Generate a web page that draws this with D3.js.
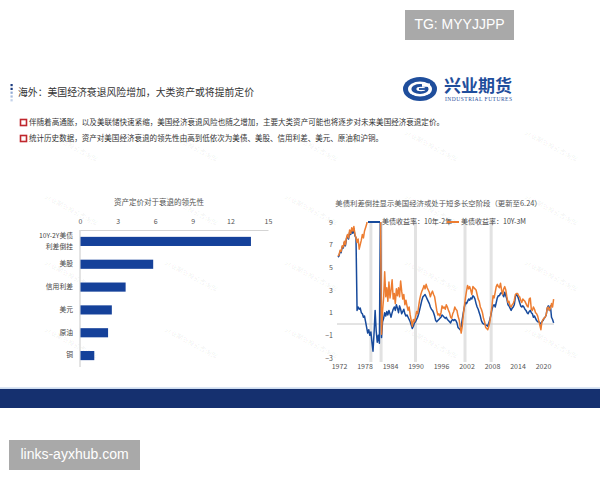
<!DOCTYPE html>
<html>
<head>
<meta charset="utf-8">
<script src="https://cdn.jsdelivr.net/npm/d3@7/dist/d3.min.js"></script>
<style>
  body { margin: 0; background: #fff; }
  svg { display: block; font-family: "Noto Sans CJK SC", "Noto Sans", sans-serif; }
</style>
</head>
<body>
<svg id="slide" width="600" height="480"></svg>
<script>
// left chart: lead time of asset pricing before recession
var leadCategories = ["10Y-2Y美债|利差倒挂", "美股", "信用利差", "美元", "原油", "铜"];
var leadValues = [13.6, 5.8, 3.6, 2.5, 2.2, 1.1];
var leadTicks = [0, 3, 6, 9, 12, 15];

// right chart: quarterly treasury spreads, first point 1971 Q4
var spreadStart = 1971.75;
var spreadStep = 0.25;
var spread10y2y = [
  5.9,
  6.0, 6.4, 6.3, 6.8,   // 1972
  6.7, 7.2, 6.9, 7.5,
  7.8, 7.5, 8.1, 7.9,
  8.3, 8.0, 8.4, 7.8,
  7.6, 1.2, 1.5, 1.3,   // 1976
  1.4, 1.0, 0.9, 0.6,
  0.7, 0.2, -0.3, -0.8,
  -0.5, -1.0, -0.7, -1.6,
  -2.4, -0.8, 1.2, -0.6, // 1980
  -1.6, -1.0, -1.7, 10.0,
  -1.2, 0.2, 0.5, 1.0,
  0.7, 1.1, 0.8, 1.2,
  0.9, 0.6, 1.0, 1.3,   // 1984
  1.5, 1.2, 1.7, 1.4,
  1.0, 1.6, 1.3, 0.9,
  1.1, 1.3, 0.9, 0.7,
  0.8, 0.6, 0.4, 0.2,   // 1988
  -0.1, -0.4, -0.2, 0.1,
  0.2, 0.4, 0.6, 0.9,
  1.3, 1.7, 2.1, 2.4,
  2.5, 2.6, 2.4, 2.2,   // 1992
  2.0, 1.8, 1.5, 1.3,
  1.2, 1.0, 0.7, 0.3,
  0.2, 0.3, 0.4, 0.5,
  0.6, 0.8, 0.7, 0.6,   // 1996
  0.5, 0.6, 0.4, 0.3,
  0.2, 0.1, 0.3, 0.4,
  0.3, 0.4, 0.3, 0.1,
  -0.3, -0.4, -0.5, -0.2, // 2000
  0.4, 1.0, 1.5, 1.9,
  1.8, 2.0, 2.2, 2.1,
  2.3, 2.2, 2.5, 2.4,
  2.2, 1.8, 1.5, 1.3,   // 2004
  1.0, 0.7, 0.3, 0.1,
  0.0, 0.0, -0.1, -0.1,
  -0.2, 0.1, 0.4, 0.8,
  1.3, 1.6, 1.7, 1.5,   // 2008
  1.9, 2.3, 2.5, 2.5,
  2.7, 2.8, 2.6, 2.4,
  2.8, 2.5, 2.2, 1.7,
  1.6, 1.4, 1.2, 1.4,   // 2012
  1.5, 1.7, 2.4, 2.6,
  2.5, 2.2, 1.9, 1.6,
  1.5, 1.6, 1.5, 1.3,
  1.2, 1.0, 0.9, 1.1,   // 2016
  1.2, 1.0, 0.9, 0.6,
  0.7, 0.5, 0.3, 0.2,
  0.2, 0.1, 0.0, 0.2,
  0.3, 0.5, 0.6, 0.8,   // 2020
  1.4, 1.6, 1.2, 1.6,
  0.6, 0.4, 0.1
];
var spread10y3m = [
  6.0,
  6.1, 6.5, 6.4, 6.9,   // 1972
  6.8, 7.3, 7.0, 7.6,
  7.9, 7.6, 8.3, 8.0,
  8.5, 8.2, 8.6, 7.9,
  7.6, 7.2, 7.5, 6.6,   // 1976
  7.0, 7.4, 7.9, 7.6,
  8.2, 8.5, 8.8, 9.3,
  9.8, 10.2, 10.5, 10.8,
  11.0, 10.8, 11.2, 11.5, // 1980
  11.3, 11.0, 10.6, 10.2,
  -0.9, 1.2, 2.3, 4.6,
  2.4, 3.2, 2.0, 3.7,
  2.3, 3.0, 3.9, 2.2,   // 1984
  2.7, 1.8, 3.1, 2.5,
  3.2, 2.4, 3.8, 2.9,
  2.2, 2.6, 1.7, 2.1,
  1.6, 1.2, 1.5, 0.8,   // 1988
  0.3, -0.2, 0.4, 0.2,
  0.6, 1.1, 0.9, 1.6,
  2.2, 2.6, 2.9, 3.1,
  3.4, 3.1, 3.5, 3.2,   // 1992
  3.0, 2.8, 2.4, 2.7,
  2.9, 2.6, 2.4, 1.8,
  1.2, 0.8, 0.9, 0.7,
  1.0, 1.6, 1.4, 1.5,   // 1996
  1.3, 1.7, 1.5, 1.2,
  1.0, 0.6, 0.5, 0.9,
  1.1, 1.5, 1.3, 1.2,
  0.7, 0.4, -0.2, -0.8, // 2000
  -0.2, 0.8, 1.6, 2.3,
  2.9, 3.4, 3.1, 3.3,
  3.0, 2.6, 3.3, 3.2,
  3.1, 3.0, 2.6, 2.2,   // 2004
  2.0, 1.5, 1.3, 1.0,
  0.5, 0.2, -0.3, -0.4,
  -0.5, -0.2, 0.2, 0.9,
  1.6, 2.5, 2.3, 2.8,   // 2008
  3.3, 3.5, 3.3, 3.2,
  3.6, 3.0, 2.6, 3.1,
  3.3, 3.0, 2.4, 1.9,
  2.0, 1.6, 1.5, 1.7,   // 2012
  1.8, 2.1, 2.6, 2.7,
  2.7, 2.5, 2.4, 2.1,
  1.9, 2.2, 2.1, 2.0,
  1.8, 1.6, 1.5, 2.2,   // 2016
  2.3, 1.3, 1.2, 1.5,
  1.3, 1.0, 0.9, 0.7,
  0.3, -0.1, -0.5, 0.2,
  0.4, 0.5, 0.6, 0.8,   // 2020
  1.4, 1.5, 1.2, 1.4,
  1.8, 1.5, 2.2
];
var spreadYTicks = [-3, -1, 1, 3, 5, 7, 9];
var spreadXTicks = [1972, 1978, 1984, 1990, 1996, 2002, 2008, 2014, 2020];
var recessionYears = [1979.5, 1981.9, 1990.0, 2001.65, 2007.8];

var svg = d3.select("#slide");

svg.append("rect").attr("width", 600).attr("height", 480).attr("fill", "#fff");

// faint watermarks
var wmX = [70, 190, 310, 430, 550];
var wmY = [148, 212, 278, 345];
wmY.forEach(function(wy) {
  wmX.forEach(function(wx) {
    svg.append("text")
      .attr("transform", "translate(" + wx + "," + wy + ") rotate(28)")
      .attr("text-anchor", "middle")
      .attr("font-size", 6.5)
      .attr("fill", "#000")
      .attr("fill-opacity", 0.07)
      .text("兴业期货投资咨询部");
  });
});

// gray tag boxes
function tagBox(x, y, w, h, label) {
  svg.append("rect").attr("x", x).attr("y", y).attr("width", w).attr("height", h).attr("fill", "#a9a9a9");
  svg.append("text")
    .attr("x", x + w / 2).attr("y", y + h / 2 + 0.5)
    .attr("text-anchor", "middle").attr("dominant-baseline", "middle")
    .attr("font-family", "Liberation Sans, Arial, sans-serif")
    .attr("font-size", 14).attr("fill", "#fff")
    .text(label);
}
tagBox(405, 10, 109, 30, "TG: MYYJJPP");
tagBox(9, 440, 131, 30, "links-ayxhub.com");

// header
var dotColors = ["#1d3d80", "#1d3d80", "#8fa9d4", "#a8bde0", "#c3d2ea"];
dotColors.forEach(function(c, i) {
  svg.append("rect").attr("x", 10.5).attr("y", 84 + i * 3.8).attr("width", 2.2).attr("height", 2.2).attr("fill", c);
});
svg.append("text")
  .attr("x", 18).attr("y", 93)
  .attr("dominant-baseline", "middle")
  .attr("font-size", 10.3).attr("fill", "#333")
  .attr("textLength", 236).attr("lengthAdjust", "spacingAndGlyphs")
  .text("海外：美国经济衰退风险增加，大类资产或将提前定价");

// logo
var logo = svg.append("g").attr("transform", "translate(420,89)");
logo.append("ellipse").attr("rx", 17).attr("ry", 12).attr("fill", "#1f4e9c");
logo.append("ellipse").attr("rx", 12).attr("ry", 7.6).attr("fill", "#fff");
logo.append("ellipse").attr("rx", 8.6).attr("ry", 5).attr("fill", "#1f4e9c");
logo.append("ellipse").attr("cx", 1).attr("rx", 4.6).attr("ry", 2.2).attr("fill", "#fff");
logo.append("rect").attr("x", 2).attr("y", -5.5).attr("width", 8).attr("height", 3.3).attr("fill", "#fff");
logo.append("rect").attr("x", -1).attr("y", -0.9).attr("width", 9).attr("height", 1.8).attr("fill", "#1f4e9c");
svg.append("text")
  .attr("x", 444).attr("y", 92)
  .attr("font-size", 17).attr("font-weight", 700).attr("fill", "#1f4e9c")
  .attr("textLength", 68).attr("lengthAdjust", "spacingAndGlyphs")
  .text("兴业期货");
svg.append("text")
  .attr("x", 445).attr("y", 101)
  .attr("font-family", "Liberation Serif, DejaVu Serif, serif")
  .attr("font-size", 5.5).attr("fill", "#1f4e9c")
  .attr("textLength", 67).attr("lengthAdjust", "spacing")
  .text("INDUSTRIAL FUTURES");

// bullets
var bullets = [
  "伴随着高通胀，以及美联储快速紧缩，美国经济衰退风险也随之增加，主要大类资产可能也将逐步对未来美国经济衰退定价。",
  "统计历史数据，资产对美国经济衰退的领先性由高到低依次为美债、美股、信用利差、美元、原油和沪铜。"
];
var bulletLen = [415, 354];
bullets.forEach(function(t, i) {
  var by = 122.5 + i * 16;
  svg.append("rect").attr("x", 20.5).attr("y", by - 3).attr("width", 6).attr("height", 6)
    .attr("fill", "#fff").attr("stroke", "#c0272d").attr("stroke-width", 1.6);
  svg.append("text")
    .attr("x", 29).attr("y", by)
    .attr("dominant-baseline", "middle")
    .attr("font-size", 8).attr("fill", "#333")
    .attr("textLength", bulletLen[i]).attr("lengthAdjust", "spacingAndGlyphs")
    .text(t);
});

// ---------- left chart: horizontal bars ----------
var left = svg.append("g");
left.append("text")
  .attr("x", 159).attr("y", 203)
  .attr("text-anchor", "middle").attr("dominant-baseline", "middle")
  .attr("font-size", 7.5).attr("fill", "#555")
  .text("资产定价对于衰退的领先性");

var bx = d3.scaleLinear().domain([0, 15]).range([80, 268]);
var by = d3.scaleBand().domain(leadCategories).range([230, 367]).paddingInner(0.6).paddingOuter(0.3);

var topAxis = left.append("g")
  .attr("transform", "translate(0,230)")
  .call(d3.axisTop(bx).tickValues(leadTicks).tickSize(0).tickPadding(6));
topAxis.select(".domain").attr("stroke", "#d4d4d4");
topAxis.selectAll("text").attr("font-size", 7).attr("fill", "#555").attr("font-family", "Noto Sans CJK SC, sans-serif");

left.append("line")
  .attr("x1", bx(0)).attr("x2", bx(0)).attr("y1", 230).attr("y2", 367)
  .attr("stroke", "#c8c8c8");

left.selectAll(".bar")
  .data(leadValues)
  .enter().append("rect")
  .attr("class", "bar")
  .attr("x", bx(0) + 0.5)
  .attr("y", function(d, i) { return by(leadCategories[i]); })
  .attr("width", function(d) { return bx(d) - bx(0); })
  .attr("height", by.bandwidth())
  .attr("fill", "#15419a");

leadCategories.forEach(function(c) {
  var lines = c.split("|");
  var cy = by(c) + by.bandwidth() / 2;
  lines.forEach(function(l, j) {
    left.append("text")
      .attr("x", 73).attr("y", cy + (j - (lines.length - 1) / 2) * 10.5)
      .attr("text-anchor", "end").attr("dominant-baseline", "middle")
      .attr("font-size", 6.8).attr("fill", "#444")
      .text(l);
  });
});

// ---------- right chart: spread lines ----------
var right = svg.append("g");
right.append("text")
  .attr("x", 438.5).attr("y", 204)
  .attr("text-anchor", "middle").attr("dominant-baseline", "middle")
  .attr("font-size", 7.4).attr("fill", "#555")
  .text("美债利差倒挂显示美国经济或处于短多长空阶段（更新至6.24）");

var sx = d3.scaleLinear().domain([1972, 2020]).range([339, 543]);
var sy = d3.scaleLinear().domain([-3, 9]).range([358, 222]);

recessionYears.forEach(function(yr) {
  right.append("rect")
    .attr("x", sx(yr) - 1.5).attr("y", sy(9)).attr("width", 3).attr("height", sy(-3) - sy(9) + 4)
    .attr("fill", "#e2e2e2");
});

right.append("line")
  .attr("x1", 337).attr("x2", 554).attr("y1", sy(0)).attr("y2", sy(0))
  .attr("stroke", "#c8c8c8");

var yAx = right.append("g")
  .attr("transform", "translate(333,0)")
  .call(d3.axisLeft(sy).tickValues(spreadYTicks).tickSize(0).tickPadding(0));
yAx.select(".domain").remove();
yAx.selectAll("text").attr("font-size", 7).attr("fill", "#555").attr("font-family", "Noto Sans CJK SC, sans-serif");

var xAx = right.append("g")
  .attr("transform", "translate(0,363)")
  .call(d3.axisBottom(sx).tickValues(spreadXTicks).tickFormat(d3.format("d")).tickSize(0).tickPadding(1));
xAx.select(".domain").remove();
xAx.selectAll("text").attr("font-size", 7).attr("fill", "#555").attr("font-family", "Noto Sans CJK SC, sans-serif");

svg.append("clipPath").attr("id", "plotClip")
  .append("rect").attr("x", 330).attr("y", sy(9)).attr("width", 230).attr("height", sy(-3) - sy(9));

var line = d3.line()
  .x(function(d, i) { return sx(spreadStart + i * spreadStep); })
  .y(function(d) { return sy(d); });

var series = right.append("g").attr("clip-path", "url(#plotClip)");
series.append("path").datum(spread10y2y)
  .attr("d", line).attr("fill", "none")
  .attr("stroke", "#174a9c").attr("stroke-width", 1.5).attr("stroke-linejoin", "round");
series.append("path").datum(spread10y3m)
  .attr("d", line).attr("fill", "none")
  .attr("stroke", "#ed7d31").attr("stroke-width", 1.5).attr("stroke-linejoin", "round");

// legend
var legendItems = [
  { x: 368, color: "#174a9c", label: "美债收益率：10年-2年" },
  { x: 447, color: "#ed7d31", label: "美债收益率：10Y-3M" }
];
legendItems.forEach(function(it) {
  right.append("line")
    .attr("x1", it.x).attr("x2", it.x + 12).attr("y1", 222).attr("y2", 222)
    .attr("stroke", it.color).attr("stroke-width", 2);
  right.append("text")
    .attr("x", it.x + 14).attr("y", 222)
    .attr("dominant-baseline", "middle")
    .attr("font-size", 7).attr("fill", "#444")
    .text(it.label);
});

// bottom band
svg.append("rect").attr("x", 0).attr("y", 387.5).attr("width", 600).attr("height", 1.2).attr("fill", "#b9cde9");
svg.append("rect").attr("x", 0).attr("y", 389).attr("width", 600).attr("height", 19).attr("fill", "#15306f");
</script>
</body>
</html>
